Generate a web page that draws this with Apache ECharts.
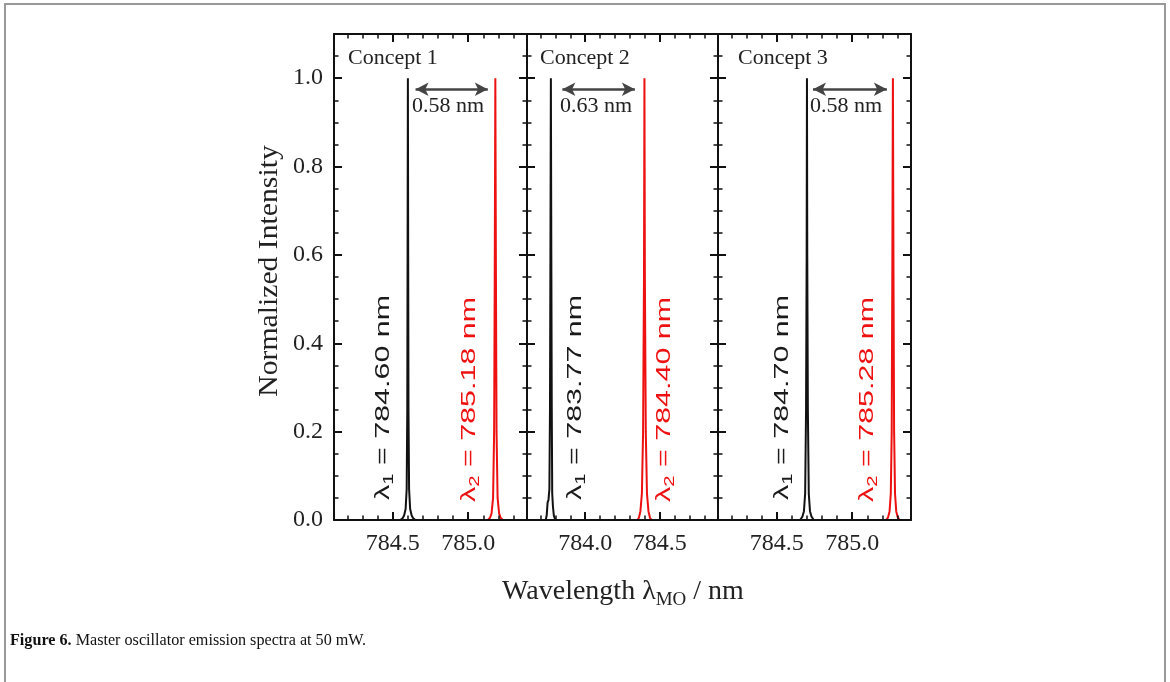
<!DOCTYPE html>
<html><head><meta charset="utf-8">
<script src="https://cdn.jsdelivr.net/npm/echarts@6/dist/echarts.min.js"></script>
<style>html,body{margin:0;padding:0;background:#fff}#c{width:1170px;height:682px}</style>
</head><body><div id="c"></div><script>
const panelNames = ['Concept 1', 'Concept 2', 'Concept 3'];
const separationLabels = ['0.58 nm', '0.63 nm', '0.58 nm'];
const lambda1Labels = ['784.60', '783.77', '784.70'];
const lambda2Labels = ['785.18', '784.40', '785.28'];
const xRangeMin = [784.11, 783.61, 784.11];
const xRangeMax = [785.39, 784.89, 785.39];
const xMajorTicks = [[784.5, 785.0], [784.0, 784.5], [784.5, 785.0]];
const xMinorTicks = [
  [784.2, 784.3, 784.4, 784.5, 784.6, 784.7, 784.8, 784.9, 785.0, 785.1, 785.2, 785.3],
  [783.7, 783.8, 783.9, 784.0, 784.1, 784.2, 784.3, 784.4, 784.5, 784.6, 784.7, 784.8],
  [784.2, 784.3, 784.4, 784.5, 784.6, 784.7, 784.8, 784.9, 785.0, 785.1, 785.2, 785.3]
];
const yMajorTicks = [0, 0.2, 0.4, 0.6, 0.8, 1.0];
const yMinorTicks = [0.05, 0.1, 0.15, 0.25, 0.3, 0.35, 0.45, 0.5, 0.55, 0.65, 0.7, 0.75, 0.85, 0.9, 0.95, 1.05];
const arrowY = 0.975;
const arrowStart = [784.651, 783.847, 784.74];
const arrowEnd = [785.13, 784.333, 785.23];

const spectrum1Black = [[784.11,0],[784.55,0],[784.565,0.004],[784.575,0.01],[784.585,0.025],[784.592,0.07],[784.596,0.25],[784.598,0.6],[784.6,1.0],[784.602,0.6],[784.604,0.25],[784.608,0.07],[784.615,0.025],[784.625,0.01],[784.635,0.004],[784.65,0],[785.39,0]];
const spectrum1Red = [[784.11,0],[785.13,0],[785.145,0.005],[785.155,0.015],[785.165,0.05],[785.172,0.2],[785.176,0.55],[785.18,1.0],[785.184,0.55],[785.188,0.2],[785.195,0.05],[785.205,0.015],[785.215,0.005],[785.23,0],[785.39,0]];
const spectrum2Black = [[783.61,0],[783.735,0],[783.742,0.01],[783.748,0.04],[783.754,0.045],[783.76,0.07],[783.764,0.25],[783.767,0.6],[783.77,1.0],[783.773,0.6],[783.776,0.25],[783.779,0.06],[783.784,0.03],[783.79,0.01],[783.8,0],[784.89,0]];
const spectrum2Red = [[783.61,0],[784.35,0],[784.36,0.005],[784.37,0.02],[784.38,0.06],[784.388,0.2],[784.394,0.55],[784.397,1.0],[784.4,0.55],[784.406,0.2],[784.414,0.06],[784.424,0.02],[784.434,0.005],[784.445,0],[784.89,0]];
const spectrum3Black = [[784.11,0],[784.655,0],[784.67,0.008],[784.68,0.02],[784.688,0.06],[784.694,0.25],[784.698,0.6],[784.7,1.0],[784.702,0.6],[784.706,0.25],[784.712,0.06],[784.72,0.02],[784.73,0.008],[784.745,0],[785.39,0]];
const spectrum3Red = [[784.11,0],[785.225,0],[785.238,0.006],[785.248,0.02],[785.256,0.06],[785.262,0.2],[785.266,0.55],[785.27,1.0],[785.274,0.55],[785.278,0.2],[785.284,0.06],[785.292,0.02],[785.302,0.006],[785.315,0],[785.39,0]];

const blackSpectra = [spectrum1Black, spectrum2Black, spectrum3Black];
const redSpectra = [spectrum1Red, spectrum2Red, spectrum3Red];

const SERIF = '"Liberation Serif", "Times New Roman", serif';
const SANS = '"Liberation Sans", Arial, sans-serif';
const AX = '#111';
const TXT = '#222';
const RED = '#ee1111';

const gridBoxes = [{left:334, width:193}, {left:527, width:191}, {left:718, width:193}];
const grids = gridBoxes.map(g => ({left:g.left, width:g.width, top:34, height:486, containLabel:false}));

const xAxes = [], yAxes = [], series = [];
for (let i = 0; i < 3; i++) {
  const base = {type:'value', gridIndex:i, min:xRangeMin[i], max:xRangeMax[i], splitLine:{show:false}, z:5};
  ['bottom','top'].forEach(pos => {
    xAxes.push(Object.assign({}, base, {
      position: pos,
      axisLine: {show:true, onZero:false, lineStyle:{color:AX, width:2}},
      axisTick: {show:true, inside:true, length:8, customValues:xMajorTicks[i], lineStyle:{color:AX, width:2}},
      axisLabel: {show: pos === 'bottom', customValues:xMajorTicks[i], formatter: v => v.toFixed(1),
        margin:12, fontFamily:SERIF, fontSize:24, color:TXT}
    }));
    xAxes.push(Object.assign({}, base, {
      position: pos,
      axisLine: {show:false, onZero:false},
      axisTick: {show:true, inside:true, length:4.5, customValues:xMinorTicks[i], lineStyle:{color:AX, width:1.5}},
      axisLabel: {show:false}
    }));
  });
  const ybase = {type:'value', gridIndex:i, min:0, max:1.1, splitLine:{show:false}, z:5};
  ['left','right'].forEach(pos => {
    yAxes.push(Object.assign({}, ybase, {
      position: pos,
      axisLine: {show:true, onZero:false, lineStyle:{color:AX, width:2}},
      axisTick: {show:true, inside:true, length:8, customValues:yMajorTicks, lineStyle:{color:AX, width:2}},
      axisLabel: {show: (i === 0 && pos === 'left'), customValues:yMajorTicks, formatter: v => v.toFixed(1),
        margin:11, fontFamily:SERIF, fontSize:24, color:TXT}
    }));
    yAxes.push(Object.assign({}, ybase, {
      position: pos,
      axisLine: {show:false, onZero:false},
      axisTick: {show:true, inside:true, length:4.5, customValues:yMinorTicks, lineStyle:{color:AX, width:1.5}},
      axisLabel: {show:false}
    }));
  });
  series.push({
    type:'line', xAxisIndex:i*4, yAxisIndex:i*4, data:blackSpectra[i], showSymbol:false, symbol:'none',
    lineStyle:{color:'#111', width:2}, silent:true, animation:false, z:3,
    markLine:{
      silent:true, animation:false, symbol:['arrow','arrow'], symbolSize:[10,13],
      lineStyle:{color:'#444', width:2.5, type:'solid'}, label:{show:false},
      data:[[{coord:[arrowStart[i], arrowY]}, {coord:[arrowEnd[i], arrowY]}]]
    }
  });
  series.push({
    type:'line', xAxisIndex:i*4, yAxisIndex:i*4, data:redSpectra[i], showSymbol:false, symbol:'none',
    lineStyle:{color:RED, width:2}, silent:true, animation:false, z:3
  });
}

const conceptPos = [[348,58],[540,58],[738,58]];
const sepPos = [[412,106],[560,106],[810,106]];
const l1Pos = [[383,500],[575,500],[782,500]];
const l2Pos = [[469,502],[664,502],[867,502]];

function lambdaLabel(pos, idx, val, color) {
  return {
    type:'text', x:pos[0], y:pos[1], rotation:Math.PI/2, scaleX:1.45, silent:true, z:10,
    style:{
      text:'{a|λ}{s|' + idx + '}{a| = ' + val + ' nm}',
      align:'left', verticalAlign:'middle', textAlign:'left', textVerticalAlign:'middle',
      fill:color,
      rich:{
        a:{fontFamily:SANS, fontSize:21, lineHeight:26, fill:color, color:color},
        s:{fontFamily:SANS, fontSize:14, lineHeight:14, verticalAlign:'bottom', fill:color, color:color}
      }
    }
  };
}

const graphics = [
  {type:'rect', shape:{x:5, y:4, width:1160, height:720}, style:{fill:'none', stroke:'#999', lineWidth:2}, silent:true, z:0}
];
for (let i = 0; i < 3; i++) {
  graphics.push({type:'text', x:conceptPos[i][0], y:conceptPos[i][1], silent:true, z:10,
    style:{text:panelNames[i], font:'22px ' + SERIF, fill:TXT, align:'left', verticalAlign:'middle', textAlign:'left', textVerticalAlign:'middle'}});
  graphics.push({type:'text', x:sepPos[i][0], y:sepPos[i][1], silent:true, z:10,
    style:{text:separationLabels[i], font:'22px ' + SERIF, fill:TXT, align:'left', verticalAlign:'middle', textAlign:'left', textVerticalAlign:'middle'}});
  graphics.push(lambdaLabel(l1Pos[i], 1, lambda1Labels[i], '#1a1a1a'));
  graphics.push(lambdaLabel(l2Pos[i], 2, lambda2Labels[i], RED));
}
graphics.push({type:'text', x:270, y:271, rotation:Math.PI/2, scaleX:1.1, silent:true, z:10,
  style:{text:'Normalized Intensity', font:'27px ' + SERIF, fill:TXT, align:'center', verticalAlign:'middle', textAlign:'center', textVerticalAlign:'middle'}});
graphics.push({type:'text', x:623, y:592, silent:true, z:10,
  style:{text:'{a|Wavelength λ}{s|MO}{a| / nm}', align:'center', verticalAlign:'middle', textAlign:'center', textVerticalAlign:'middle', fill:TXT,
    rich:{a:{fontFamily:SERIF, fontSize:28, lineHeight:36, fill:TXT, color:TXT}, s:{fontFamily:SERIF, fontSize:19, lineHeight:19, verticalAlign:'bottom', fill:TXT, color:TXT}}}});
graphics.push({type:'text', x:10, y:641, scaleX:0.95, silent:true, z:10,
  style:{text:'{b|Figure 6.}{n| Master oscillator emission spectra at 50 mW.}', align:'left', verticalAlign:'middle', textAlign:'left', textVerticalAlign:'middle', fill:'#111',
    rich:{b:{fontFamily:SERIF, fontSize:17, fontWeight:'bold', fill:'#111', color:'#111'}, n:{fontFamily:SERIF, fontSize:17, fill:'#111', color:'#111'}}}});

const chart = echarts.init(document.getElementById('c'), null, {renderer:'canvas'});
chart.setOption({
  animation:false,
  backgroundColor:'#fff',
  grid:grids,
  xAxis:xAxes,
  yAxis:yAxes,
  series:series,
  graphic:graphics
});
</script></body></html>
